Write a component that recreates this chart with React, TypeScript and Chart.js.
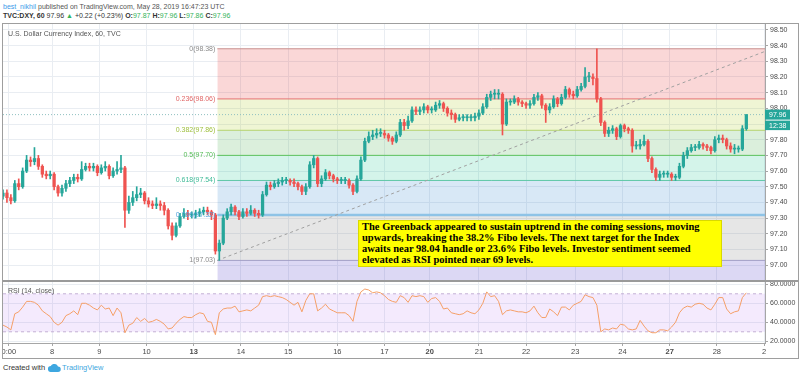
import React, { useEffect, useRef } from "react";
import { Chart, registerables } from "chart.js";
Chart.register(...registerables);

// ---------- data (2-hour candles, hours counted from May 7 00:00) ----------
const barStartHour = -3;
const barHours = 2;
const firstOpen = 97.44;
const closes = [
  97.46, 97.43, 97.41, 97.52, 97.5, 97.6, 97.67, 97.66, 97.68, 97.63,
  97.58, 97.57, 97.58, 97.5, 97.46, 97.49, 97.52, 97.54, 97.56, 97.55,
  97.61, 97.63, 97.62, 97.63, 97.59, 97.62, 97.63, 97.57, 97.6, 97.61,
  97.62, 97.35, 97.4, 97.43, 97.45, 97.46, 97.41, 97.39, 97.38, 97.39,
  97.38, 97.35, 97.25, 97.19, 97.25, 97.31, 97.33, 97.32, 97.32, 97.33,
  97.34, 97.35, 97.34, 97.32, 97.09, 97.14, 97.3, 97.34, 97.37, 97.34,
  97.31, 97.34, 97.33, 97.35, 97.33, 97.32, 97.45, 97.51, 97.5, 97.52,
  97.53, 97.54, 97.54, 97.53, 97.52, 97.5, 97.47, 97.5, 97.64, 97.68,
  97.52, 97.55, 97.59, 97.57, 97.55, 97.54, 97.54, 97.54, 97.51, 97.47,
  97.55, 97.67, 97.79, 97.82, 97.83, 97.84, 97.84, 97.83, 97.81, 97.79,
  97.83, 97.91, 97.89, 97.92, 97.99, 97.98, 97.99, 98.01, 97.99, 97.99,
  98.02, 98.03, 98.0, 97.97, 97.96, 97.93, 97.94, 97.94, 97.94, 97.94,
  97.95, 97.97, 98.01, 98.07, 98.09, 98.09, 98.09, 97.9, 98.04, 98.04,
  98.06, 98.04, 98.03, 98.02, 98.03, 98.07, 98.08, 98.02, 97.99, 98.01,
  98.06, 98.03, 98.07, 98.12, 98.09, 98.08, 98.12, 98.14, 98.2, 98.2,
  98.19, 98.06, 97.91, 97.84, 97.86, 97.87, 97.82, 97.89, 97.87, 97.86,
  97.76, 97.76, 97.77, 97.79, 97.68, 97.61, 97.56, 97.58, 97.58, 97.58,
  97.56, 97.56, 97.63, 97.7, 97.73, 97.75, 97.75, 97.77, 97.76, 97.75,
  97.73, 97.8, 97.81, 97.8, 97.76, 97.74, 97.74, 97.74, 97.87, 97.96,
];
const highs = [
  97.48, 97.48, 97.45, 97.54, 97.55, 97.62, 97.7, 97.69, 97.75, 97.7,
  97.64, 97.6, 97.6, 97.59, 97.51, 97.51, 97.54, 97.56, 97.58, 97.58,
  97.66, 97.65, 97.65, 97.65, 97.64, 97.64, 97.66, 97.64, 97.62, 97.66,
  97.7, 97.63, 97.44, 97.47, 97.5, 97.49, 97.47, 97.43, 97.41, 97.43,
  97.41, 97.4, 97.36, 97.27, 97.27, 97.33, 97.36, 97.35, 97.34, 97.35,
  97.36, 97.37, 97.37, 97.35, 97.33, 97.16, 97.32, 97.36, 97.39, 97.38,
  97.35, 97.36, 97.36, 97.38, 97.36, 97.35, 97.47, 97.53, 97.53, 97.54,
  97.55, 97.56, 97.56, 97.55, 97.55, 97.53, 97.51, 97.52, 97.66, 97.7,
  97.69, 97.57, 97.61, 97.6, 97.58, 97.56, 97.56, 97.56, 97.55, 97.52,
  97.57, 97.69, 97.81, 97.85, 97.86, 97.87, 97.87, 97.86, 97.84, 97.82,
  97.85, 97.93, 97.93, 97.95, 98.01, 98.01, 98.01, 98.03, 98.02, 98.01,
  98.04, 98.05, 98.04, 98.01, 97.99, 97.97, 97.96, 97.96, 97.96, 97.96,
  97.97, 97.99, 98.03, 98.09, 98.11, 98.12, 98.12, 98.1, 98.06, 98.06,
  98.08, 98.07, 98.05, 98.04, 98.05, 98.09, 98.1, 98.09, 98.03, 98.03,
  98.08, 98.07, 98.09, 98.14, 98.13, 98.11, 98.14, 98.16, 98.26, 98.23,
  98.22, 98.38, 98.07, 97.92, 97.88, 97.89, 97.88, 97.9, 97.9, 97.88,
  97.87, 97.79, 97.8, 97.83, 97.8, 97.69, 97.62, 97.6, 97.6, 97.6,
  97.59, 97.58, 97.65, 97.72, 97.75, 97.77, 97.77, 97.79, 97.78, 97.77,
  97.76, 97.82, 97.83, 97.83, 97.81, 97.78, 97.77, 97.76, 97.89, 97.96,
];
const lows = [
  97.42, 97.4, 97.39, 97.4, 97.48, 97.49, 97.59, 97.63, 97.64, 97.61,
  97.56, 97.55, 97.55, 97.48, 97.44, 97.44, 97.47, 97.5, 97.52, 97.53,
  97.54, 97.6, 97.6, 97.6, 97.57, 97.58, 97.6, 97.55, 97.56, 97.58,
  97.59, 97.24, 97.33, 97.38, 97.41, 97.43, 97.39, 97.37, 97.36, 97.36,
  97.35, 97.32, 97.23, 97.16, 97.18, 97.24, 97.3, 97.29, 97.3, 97.3,
  97.31, 97.32, 97.32, 97.29, 97.07, 97.03, 97.13, 97.29, 97.32, 97.32,
  97.29, 97.3, 97.31, 97.32, 97.31, 97.3, 97.31, 97.44, 97.48, 97.49,
  97.5, 97.51, 97.52, 97.51, 97.5, 97.48, 97.45, 97.45, 97.49, 97.62,
  97.5, 97.5, 97.54, 97.55, 97.53, 97.52, 97.52, 97.52, 97.49, 97.45,
  97.46, 97.54, 97.66, 97.78, 97.8, 97.81, 97.82, 97.81, 97.79, 97.77,
  97.78, 97.82, 97.86, 97.87, 97.91, 97.96, 97.96, 97.97, 97.97, 97.97,
  97.98, 98.0, 97.98, 97.95, 97.93, 97.91, 97.92, 97.92, 97.92, 97.92,
  97.92, 97.93, 97.96, 98.0, 98.05, 98.06, 98.06, 97.83, 97.89, 98.02,
  98.03, 98.02, 98.01, 98.0, 98.0, 98.02, 98.05, 98.0, 97.91, 97.97,
  98.0, 98.01, 98.02, 98.06, 98.07, 98.06, 98.07, 98.11, 98.13, 98.17,
  98.15, 98.04, 97.89, 97.82, 97.82, 97.84, 97.8, 97.81, 97.85, 97.84,
  97.72, 97.74, 97.74, 97.76, 97.66, 97.59, 97.54, 97.54, 97.56, 97.56,
  97.54, 97.54, 97.55, 97.62, 97.68, 97.72, 97.73, 97.74, 97.74, 97.73,
  97.71, 97.72, 97.78, 97.78, 97.74, 97.72, 97.71, 97.72, 97.73, 97.86,
];
const rsiValues = [
  37, 35, 32, 49, 51, 56, 62, 62, 61, 58,
  52, 49, 46, 40, 37, 40, 47, 49, 52, 48,
  60, 60, 58, 55, 53, 58, 54, 55, 47, 55,
  50, 29, 37, 39, 45, 41, 44, 40, 41, 43,
  41, 38, 33, 34, 39, 43, 46, 45, 45, 48,
  50, 49, 41, 40, 27, 50, 54, 55, 55, 57,
  51, 52, 53, 52, 55, 58, 67, 68, 67, 68,
  67, 66, 64, 61, 58, 61, 51, 63, 70, 70,
  52, 55, 59, 54, 52, 50, 50, 50, 47, 41,
  62, 72, 75, 74, 71, 72, 71, 68, 64, 62,
  61, 68, 66, 61, 68, 67, 68, 67, 61, 65,
  66, 62, 54, 55, 50, 49, 48, 49, 52, 50,
  49, 53, 60, 72, 67, 68, 62, 48, 52, 53,
  52, 51, 51, 50, 52, 57, 50, 45, 45, 54,
  51, 47, 56, 56, 53, 58, 60, 62, 69, 67,
  66, 58, 30, 33, 32, 34, 33, 38, 37, 33,
  32, 33, 42, 36, 31, 29, 29, 32, 32, 31,
  35, 40, 50, 55, 57, 56, 59, 60, 59, 55,
  53, 59, 66, 66, 54, 49, 51, 52, 66, 71,
];
const dayTicks = [0, 22, 46, 70, 94, 118, 142, 167, 191, 214, 239, 263, 288, 312, 336, 360, 384];
const dayLabels = ["0:00", "8", "9", "10", "13", "14", "15", "16", "17", "20", "21", "22", "23", "24", "27", "28", "2"];
const boldLabels = ["13", "20", "27"];
const priceTicks = [97.0, 97.1, 97.2, 97.3, 97.4, 97.5, 97.6, 97.7, 97.8, 97.9, 98.0, 98.1, 98.2, 98.3, 98.4, 98.5];
const rsiTicks = [20, 40, 60, 80];
const fibRatios = ["0", "0.236", "0.382", "0.5", "0.618", "0.786", "1"];
const fibPrices = [98.38, 98.06, 97.86, 97.7, 97.54, 97.32, 97.03];
const fibExtPrice = 96.2;
const fibStartHour = 106;
const fibEndHour = 388;
const lastClose = 97.96;
const countdown = "12:38";
const rsiUpper = 70;
const rsiLower = 30;
const xMin = -3;
const xMax = 384.5;
const yMin = 96.905;
const yMax = 98.538;
const rsiMin = 18.2;
const rsiMax = 82.4;

// ---------- styles ----------
const FONT = '"Liberation Sans", Arial, sans-serif';
const UP = "#26a69a";
const DOWN = "#ef5350";
const GRID = "#e9edf2";
const AXIS = "#a6a6a6";
const TEXT = "#4a4a4a";
const fibLineColors = ["#c9908f", "#e57373", "#b6d36f", "#5dc35d", "#5fc7a7", "#8ec3e6", "#a29fc7"];
const fibLineWidths = [1, 1, 1, 1, 1, 2.5, 1];
const fibFillColors = [
  "transparent",
  "rgba(229,57,53,0.2)",
  "rgba(175,205,40,0.2)",
  "rgba(76,175,80,0.2)",
  "rgba(0,190,130,0.17)",
  "rgba(60,140,210,0.2)",
  "rgba(128,128,128,0.2)",
];
const fibExtFill = "rgba(80,60,200,0.2)";
const fibLabelColors = ["#8a8a8a", "#e06666", "#a0c040", "#55bb55", "#40bb98", "#55a3dc", "#8a8a8a"];

Chart.defaults.font.family = FONT;

const hours = closes.map((_, i) => barStartHour + i * barHours);
const opens = closes.map((_, i) => (i === 0 ? firstOpen : closes[i - 1]));
const candleColors = closes.map((c, i) => (c >= opens[i] ? UP : DOWN));

function zeroPad(s: any) {
  s.paddingTop = 0;
  s.paddingBottom = 0;
  s.paddingLeft = 0;
  s.paddingRight = 0;
}

const mainOverlay = {
  id: "mainOverlay",
  afterDatasetsDraw(chart: any) {
    const { ctx, scales } = chart;
    const x = scales.x;
    const y = scales.y;
    ctx.save();
    ctx.font = `7px ${FONT}`;
    ctx.textAlign = "right";
    ctx.textBaseline = "middle";
    const lx = x.getPixelForValue(fibStartHour) - 2;
    fibPrices.forEach((p, k) => {
      ctx.fillStyle = fibLabelColors[k];
      ctx.fillText(`${fibRatios[k]}(${p.toFixed(2)})`, lx, y.getPixelForValue(p));
    });
    ctx.restore();
  },
  afterDraw(chart: any) {
    const { ctx, chartArea, scales } = chart;
    const py = scales.y.getPixelForValue(lastClose);
    const color = closes[closes.length - 1] >= opens[opens.length - 1] ? UP : DOWN;
    ctx.save();
    ctx.fillStyle = color;
    ctx.fillRect(chartArea.right, py - 5, 25, 10);
    ctx.fillRect(chartArea.right, py + 6, 25, 9.5);
    ctx.fillStyle = "#ffffff";
    ctx.font = `7px ${FONT}`;
    ctx.textAlign = "left";
    ctx.textBaseline = "middle";
    ctx.fillText(lastClose.toFixed(2), chartArea.right + 4, py);
    ctx.fillText(countdown, chartArea.right + 4, py + 11);
    ctx.restore();
  },
};

const rsiOverlay = {
  id: "rsiOverlay",
  afterDraw(chart: any) {
    const { ctx, chartArea } = chart;
    ctx.save();
    ctx.font = `7px ${FONT}`;
    ctx.fillStyle = "#555";
    ctx.textAlign = "left";
    ctx.textBaseline = "middle";
    ctx.fillText("RSI (14, close)", chartArea.left + 5, chartArea.top + 9);
    ctx.restore();
  },
};

function buildMainConfig(): any {
  const fibSets: any[] = fibPrices.map((p, k) => ({
    type: "line",
    data: [
      { x: fibStartHour, y: p },
      { x: xMax, y: p },
    ],
    borderColor: fibLineColors[k],
    borderWidth: fibLineWidths[k],
    pointRadius: 0,
    fill: k === 0 ? false : "-1",
    backgroundColor: fibFillColors[k],
    order: 10,
  }));
  fibSets.push({
    type: "line",
    data: [
      { x: fibStartHour, y: fibExtPrice },
      { x: xMax, y: fibExtPrice },
    ],
    borderColor: "transparent",
    borderWidth: 0,
    pointRadius: 0,
    fill: "-1",
    backgroundColor: fibExtFill,
    order: 10,
  });
  return {
    type: "line",
    data: {
      datasets: [
        {
          type: "bar",
          data: hours.map((h, i) => ({ x: h, y: [opens[i], closes[i]] })),
          backgroundColor: candleColors,
          barThickness: 2.6,
          minBarLength: 1,
          grouped: false,
          order: 0,
        },
        {
          type: "bar",
          data: hours.map((h, i) => ({ x: h, y: [lows[i], highs[i]] })),
          backgroundColor: candleColors,
          barThickness: 1,
          grouped: false,
          order: 1,
        },
        {
          type: "line",
          data: [
            { x: xMin, y: lastClose },
            { x: xMax, y: lastClose },
          ],
          borderColor: "#8fc0c0",
          borderWidth: 1,
          borderDash: [1, 2],
          pointRadius: 0,
          fill: false,
          order: 2,
        },
        {
          type: "line",
          data: [
            { x: fibStartHour, y: fibPrices[fibPrices.length - 1] },
            { x: fibEndHour, y: fibPrices[0] },
          ],
          borderColor: "#a0a0a0",
          borderWidth: 1,
          borderDash: [3, 3],
          pointRadius: 0,
          fill: false,
          order: 2,
        },
        ...fibSets,
      ],
    },
    options: {
      animation: false,
      responsive: false,
      events: [],
      layout: { padding: 0 },
      plugins: { legend: { display: false }, tooltip: { enabled: false } },
      scales: {
        x: {
          type: "linear",
          min: xMin,
          max: xMax,
          offset: false,
          grid: { color: GRID, drawTicks: false, offset: false },
          border: { display: false },
          ticks: { display: false },
          afterBuildTicks: (s: any) => {
            s.ticks = dayTicks.map((v) => ({ value: v }));
          },
          afterFit: (s: any) => {
            s.height = 0;
            zeroPad(s);
          },
        },
        y: {
          position: "right",
          min: yMin,
          max: yMax,
          grid: { color: GRID, tickLength: 3, tickColor: AXIS },
          border: { color: AXIS },
          ticks: {
            font: { size: 7 },
            color: TEXT,
            padding: 2,
            callback: (v: any) => Number(v).toFixed(2),
          },
          afterBuildTicks: (s: any) => {
            s.ticks = priceTicks.map((v) => ({ value: v }));
          },
          afterFit: (s: any) => {
            s.width = 33;
            zeroPad(s);
          },
        },
      },
    },
    plugins: [mainOverlay],
  };
}

function buildRsiConfig(): any {
  return {
    type: "line",
    data: {
      datasets: [
        {
          data: hours.map((h, i) => ({ x: h, y: rsiValues[i] })),
          borderColor: "#f59f67",
          borderWidth: 1,
          pointRadius: 0,
          fill: false,
          order: 0,
        },
        {
          data: [
            { x: xMin, y: rsiUpper },
            { x: xMax, y: rsiUpper },
          ],
          borderColor: "#c4b1d6",
          borderWidth: 1,
          borderDash: [3, 3],
          pointRadius: 0,
          fill: false,
          order: 5,
        },
        {
          data: [
            { x: xMin, y: rsiLower },
            { x: xMax, y: rsiLower },
          ],
          borderColor: "#c4b1d6",
          borderWidth: 1,
          borderDash: [3, 3],
          pointRadius: 0,
          fill: "-1",
          backgroundColor: "rgba(155,60,240,0.11)",
          order: 5,
        },
      ],
    },
    options: {
      animation: false,
      responsive: false,
      events: [],
      layout: { padding: 0 },
      plugins: { legend: { display: false }, tooltip: { enabled: false } },
      scales: {
        x: {
          type: "linear",
          min: xMin,
          max: xMax,
          offset: false,
          grid: { color: GRID, tickLength: 3, tickColor: AXIS },
          border: { color: AXIS },
          ticks: {
            autoSkip: false,
            maxRotation: 0,
            padding: 1,
            color: TEXT,
            font: (ctx: any) => ({
              family: FONT,
              size: 7.5,
              weight: boldLabels.includes(dayLabels[ctx.index]) ? "bold" : "normal",
            }),
            callback: (_v: any, i: number) => dayLabels[i],
          },
          afterBuildTicks: (s: any) => {
            s.ticks = dayTicks.map((v) => ({ value: v }));
          },
          afterFit: (s: any) => {
            s.height = 14;
            zeroPad(s);
          },
        },
        y: {
          position: "right",
          min: rsiMin,
          max: rsiMax,
          grid: { color: GRID, tickLength: 3, tickColor: AXIS },
          border: { color: AXIS },
          ticks: {
            font: { size: 7 },
            color: TEXT,
            padding: 2,
            callback: (v: any) => Number(v).toFixed(4),
          },
          afterBuildTicks: (s: any) => {
            s.ticks = rsiTicks.map((v) => ({ value: v }));
          },
          afterFit: (s: any) => {
            s.width = 33;
            zeroPad(s);
          },
        },
      },
    },
    plugins: [rsiOverlay],
  };
}

const green = "#34b35a";

export default function App() {
  const mainRef = useRef<HTMLCanvasElement>(null);
  const rsiRef = useRef<HTMLCanvasElement>(null);

  useEffect(() => {
    const c1 = new Chart(mainRef.current as HTMLCanvasElement, buildMainConfig());
    const c2 = new Chart(rsiRef.current as HTMLCanvasElement, buildRsiConfig());
    return () => {
      c1.destroy();
      c2.destroy();
    };
  }, []);

  const abs = (l: number, t: number, extra: any = {}) => ({ position: "absolute", left: l, top: t, ...extra });

  return (
    <div
      style={{
        position: "fixed",
        left: 0,
        top: 0,
        width: 800,
        height: 378,
        background: "#ffffff",
        overflow: "hidden",
        fontFamily: FONT,
      }}
    >
      <div style={abs(3, 2, { fontSize: 7, lineHeight: "9px", color: "#555", whiteSpace: "nowrap" }) as any}>
        <span style={{ color: "#3d9be9" }}>best_nikhil</span> published on TradingView.com, May 28, 2019 16:47:23 UTC
      </div>
      <div style={abs(3, 11, { fontSize: 7, lineHeight: "9px", color: "#333", whiteSpace: "nowrap" }) as any}>
        <b>TVC:DXY, 60</b> 97.96 <span style={{ color: green }}>▲</span> +0.22 (+0.23%) <b>O:</b>
        <span style={{ color: green }}>97.87</span> <b>H:</b>
        <span style={{ color: green }}>97.96</span> <b>L:</b>
        <span style={{ color: green }}>97.86</span> <b>C:</b>
        <span style={{ color: green }}>97.96</span>
      </div>

      <canvas ref={mainRef} width={795} height={256} style={abs(3, 24, { display: "block" }) as any} />
      <canvas ref={rsiRef} width={795} height={75} style={abs(3, 282, { display: "block" }) as any} />

      <div style={abs(3, 280, { width: 795, height: 2, background: "#9a9a9a" }) as any} />
      <div
        style={abs(2, 23, {
          width: 797,
          height: 336,
          border: "1px solid #9e9e9e",
          boxSizing: "border-box",
          pointerEvents: "none",
        }) as any}
      />

      <div style={abs(8, 29, { fontSize: 7, lineHeight: "9px", color: "#555", whiteSpace: "nowrap" }) as any}>
        U.S. Dollar Currency Index, 60, TVC
      </div>

      <div
        style={abs(358, 220, {
          width: 364,
          height: 47,
          background: "#ffff00",
          border: "1px solid rgba(0,0,0,0.15)",
          boxSizing: "border-box",
          padding: "0 0 0 3px",
          fontFamily: '"Liberation Serif", "Times New Roman", serif',
          fontWeight: "bold",
          fontSize: 10.5,
          lineHeight: "11px",
          color: "#000",
          whiteSpace: "nowrap",
        }) as any}
      >
        The Greenback appeared to sustain uptrend in the coming sessions, moving
        <br />
        upwards, breaking the 38.2% Fibo levels. The next target for the Index
        <br />
        awaits near 98.04 handle or 23.6% Fibo levels. Investor sentiment seemed
        <br />
        elevated as RSI pointed near 69 levels.
      </div>

      <div style={abs(3, 363, { fontSize: 7.5, lineHeight: "10px", color: "#333", whiteSpace: "nowrap", display: "flex", alignItems: "center" }) as any}>
        <span>Created with</span>
        <svg width="13" height="8" viewBox="0 0 26 16" style={{ margin: "0 1px 0 3px" }}>
          <path d="M6 16a6 6 0 0 1-.5-12A8 8 0 0 1 20 5a5.5 5.5 0 0 1 0 11z" fill="#3ea7e0" />
        </svg>
        <span style={{ color: "#3ea7e0" }}>TradingView</span>
      </div>
    </div>
  );
}
